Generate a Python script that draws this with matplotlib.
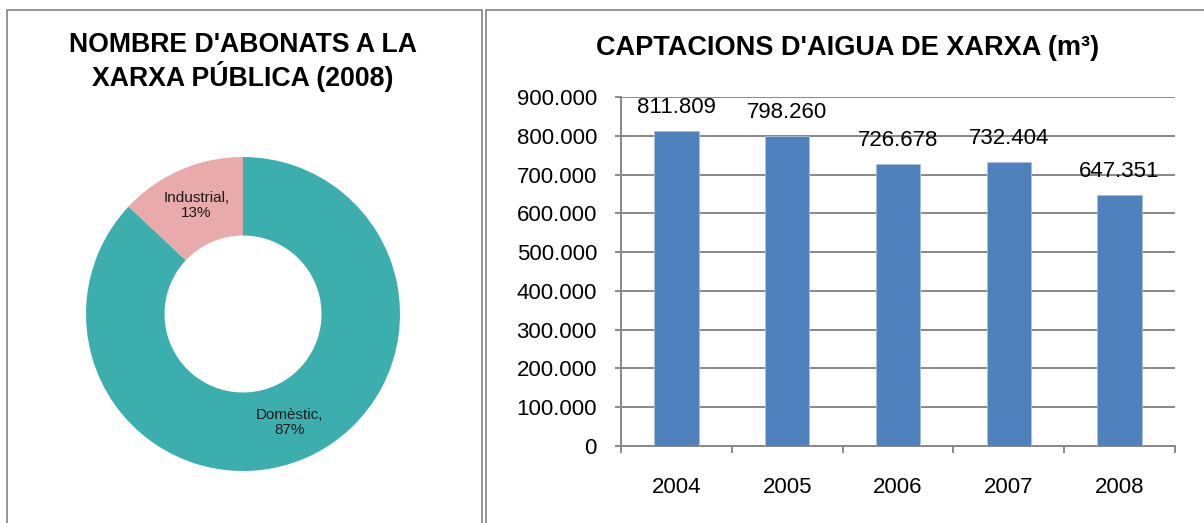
import matplotlib
matplotlib.use("Agg")
import matplotlib.pyplot as plt
from matplotlib.patches import Rectangle
from matplotlib.ticker import FuncFormatter, MultipleLocator, FixedLocator
import numpy as np

plt.rcParams['font.family'] = ['Liberation Sans', 'DejaVu Sans']

# ---- data ----
pie_title = "NOMBRE D'ABONATS A LA\nXARXA PÚBLICA (2008)"
pie_labels = ["Domèstic", "Industrial"]
pie_pcts = [87, 13]
pie_colors = ["#3DAEAE", "#E8AAAA"]

bar_title = "CAPTACIONS D'AIGUA DE XARXA (m³)"
years = ["2004", "2005", "2006", "2007", "2008"]
captacions = [811809, 798260, 726678, 732404, 647351]
bar_color = "#4F81BD"

def fmt_thousands(v):
    return f"{int(round(v)):,}".replace(",", ".")

W, H = 1204, 523
fig = plt.figure(figsize=(W / 100, H / 100), dpi=100)
fig.patch.set_facecolor("white")

border = "#8C8C8C"
# panel frames
fig.add_artist(Rectangle((7 / W, -0.05), (482 - 7) / W, (H - 10) / H + 0.05,
                         transform=fig.transFigure, fill=False, edgecolor=border,
                         linewidth=1.3, clip_on=False))
fig.add_artist(Rectangle((486 / W, -0.05), 0.6, (H - 10) / H + 0.05,
                         transform=fig.transFigure, fill=False, edgecolor=border,
                         linewidth=1.3, clip_on=False))

# ---- donut ----
cx, cy, r = 243, 314, 157
axp = fig.add_axes([(cx - r) / W, (H - cy - r) / H, 2 * r / W, 2 * r / H])
wedges, _ = axp.pie(pie_pcts, colors=pie_colors, startangle=90, counterclock=False,
                    radius=1.0, wedgeprops=dict(width=0.5, edgecolor="none"))
for w, lab, p in zip(wedges, pie_labels, pie_pcts):
    ang = np.deg2rad((w.theta1 + w.theta2) / 2)
    axp.text(0.75 * np.cos(ang), 0.75 * np.sin(ang), f"{lab},\n{p}%",
             ha="center", va="center", fontsize=11, color="#1a1a1a", linespacing=1.1)
axp.set_xlim(-1, 1)
axp.set_ylim(-1, 1)
axp.set_aspect("equal")
axp.axis("off")

fig.text(243 / W, (H - 62) / H, pie_title, ha="center", va="center",
         fontsize=19.2, fontweight="bold", linespacing=1.1)

# ---- bars ----
x0, x1, ytop, ybot = 621, 1175, 97, 446
axb = fig.add_axes([x0 / W, (H - ybot) / H, (x1 - x0) / W, (ybot - ytop) / H])
xs = np.arange(len(years))
bars = axb.bar(xs, captacions, width=0.4, color=bar_color, edgecolor="#A9C1E0",
               linewidth=0.6, zorder=3)
for b, v in zip(bars, captacions):
    axb.annotate(fmt_thousands(v), (b.get_x() + b.get_width() / 2, b.get_height()),
                 xytext=(0, 17), textcoords="offset points", ha="center", va="center",
                 fontsize=16, color="black", zorder=4)
axb.set_xlim(-0.5, len(years) - 0.5)
axb.set_ylim(0, 900000)
axb.yaxis.set_major_locator(MultipleLocator(100000))
axb.yaxis.set_major_formatter(FuncFormatter(lambda v, p: fmt_thousands(v)))
axb.grid(axis="y", color="#888888", linewidth=1.4, zorder=0)
axb.set_axisbelow(True)
axb.set_xticks(xs)
axb.set_xticklabels(years)
axb.xaxis.set_minor_locator(FixedLocator(np.arange(-0.5, len(years), 1.0)))
axb.tick_params(axis="x", which="major", length=0, pad=22, labelsize=16)
axb.tick_params(axis="x", which="minor", length=5, width=1.4, color="#888888")
axb.tick_params(axis="y", length=4.3, width=1.4, color="#888888", pad=13, labelsize=16)
for s in ["top", "right"]:
    axb.spines[s].set_visible(False)
for s in ["left", "bottom"]:
    axb.spines[s].set_color("#888888")
    axb.spines[s].set_linewidth(1.4)
axb.set_facecolor("none")

fig.text(847.5 / W, (H - 48) / H, bar_title, ha="center", va="center",
         fontsize=19.5, fontweight="bold")

fig.savefig("out.png", dpi=100, facecolor="white")
